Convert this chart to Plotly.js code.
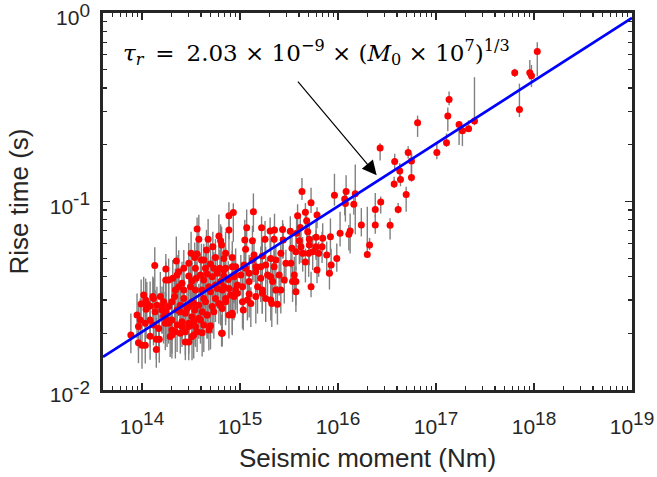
<!DOCTYPE html>
<html>
<head>
<meta charset="utf-8">
<script src="https://cdn.plot.ly/plotly-3.0.1.min.js"></script>
<style>html,body{margin:0;padding:0;background:#fff;}#chart{width:657px;height:477px;}</style>
</head>
<body>
<div id="chart"></div>
<script>
// Seismic moment M0 (N·m)
const moment = [
 1.08e18,6.36e17,9.06e17,9.42e17,7.10e17,1.36e17,1.32e17,6.49e16,1.28e17,1.02e17,
 1.72e17,1.86e17,2.15e17,2.47e17,2.69e16,5.20e16,5.62e16,3.79e16,4.27e16,4.34e16,
 3.74e16,5.62e16,4.96e16,4.11e16,2.73e16,2.40e16,2.40e16,3.40e16,1.73e16,2.10e16,
 1.99e16,1.45e16,1.50e16,1.33e16,
 4.29e15,9.20e15,1.21e16,1.17e16,1.19e16,5.31e15,3.87e15,4.65e15,6.11e15,4.79e15,
 1.37e15,8.55e14,7.71e14,
 3.65e14,7.71e14,1.17e15,1.66e15,2.03e15,2.25e15,2.72e15,3.26e15,4.12e15,3.78e15,
 4.91e15,5.97e15,5.10e15,8.37e15,1.05e16,6.09e14,6.34e14,1.12e15,1.34e15,1.80e15,
 2.23e15,2.76e15,4.03e15,6.98e15,1.29e16,3.80e14,4.73e14,
 1.35e14,2.24e14,1.75e14,3.17e14,3.65e14,4.04e14,4.55e14,5.28e14,6.49e14,7.13e14,
 6.85e14,5.62e14,5.00e14,4.44e14,3.45e14,3.00e14,2.67e14,2.37e14,8.34e14,1.14e15,
 1.39e15,1.34e15,1.69e15,2.06e15,2.32e15,1.83e15,2.23e15,2.94e15,3.31e15,2.61e15,
 3.39e15,4.19e15,5.10e15,5.52e15,6.35e15,6.88e15,7.67e15,4.36e15,5.02e15,3.72e15,
 4.65e15,5.97e15,9.03e14,1.10e15,1.63e15,1.45e15,1.14e15,8.34e14,7.13e14,6.24e14,
 5.41e14,
 1.87e14,2.06e14,2.28e14,2.37e14,2.56e14,3.00e14,3.24e14,3.57e14,3.95e14,4.27e14,
 4.62e14,5.20e14,5.86e14,6.34e14,6.85e14,7.59e14,8.68e14,1.02e15,1.24e15,1.45e15,
 1.63e15,1.91e15,2.06e15,2.51e15,2.83e15,3.58e15,3.72e15,6.11e15,8.51e15,8.18e15,
 9.72e15,1.75e14,2.19e14,2.67e14,3.12e14,3.51e14,4.11e14,4.81e14,5.62e14,6.59e14,
 7.71e14,9.03e14,1.06e15,1.24e15,1.51e15,1.69e15,2.15e15,2.32e15,3.72e15,5.31e15,
 8.9e13,9.8e13,1.04e14,1.09e14,1.10e14,1.21e14,1.29e14,1.36e14,1.42e14,1.54e14,
 1.60e14,1.66e14,1.75e14,1.87e14,2.02e14,2.15e14,2.28e14,2.46e14,2.67e14,2.77e14,
 3.00e14,3.24e14,3.45e14,3.80e14,4.11e14,4.44e14,4.62e14,5.20e14,5.62e14,6.09e14,
 6.59e14,7.13e14,7.71e14,8.34e14,8.68e14,9.39e14,1.06e15,1.19e15,1.29e15,1.08e15,
 1.24e15,1.45e15,1.69e15,1.83e15,2.06e15,2.11e15,2.41e15,2.61e15,3.44e15,
 7.7e13,9.2e13,9.6e13,1.08e14,1.21e14,1.31e14,1.48e14,1.66e14,1.87e14,2.02e14,
 2.28e14,2.56e14,3.00e14,3.24e14,3.51e14,3.95e14,4.27e14,4.81e14,2.02e14,2.19e14,
 2.46e14,2.77e14,3.00e14,3.37e14,3.65e14,4.11e14,9.2e13,1.0e14,1.08e14,1.21e14,
 1.40e14,1.50e14,1.40e14,1.73e14,1.94e14,6.49e14,5.00e14,
 3.51e14,4.27e14,6.85e14,8.68e14,9.39e14,8.02e14,7.13e14,6.34e14,5.41e14,4.62e14,
 3.80e14,3.37e14,3.00e14,2.56e14,3.24e14,2.77e14,1.73e14,1.60e14,1.31e14,1.12e14,
 1.80e14,2.02e14,2.46e14,2.88e14,3.37e14,4.27e14,5.00e14,5.86e14,6.85e14,8.34e14,
 6.59e14
];
// Rise time (s)
const riseTime = [
 0.624,0.482,0.482,0.465,0.308,0.348,0.284,0.262,0.205,0.182,
 0.256,0.237,0.243,0.267,0.192,0.182,0.164,0.163,0.145,0.131,
 0.124,0.134,0.109,0.0908,0.0994,0.0908,0.0750,0.0748,0.0750,0.0588,
 0.0524,0.0966,0.110,0.0697,
 0.113,0.108,0.113,0.103,0.0977,0.0986,0.0841,0.0876,0.0848,0.0791,
 0.0883,0.0873,0.0841,
 0.0715,0.0706,0.0726,0.0726,0.0697,0.0706,0.0711,0.0695,0.0729,0.0678,
 0.0692,0.0646,0.0630,0.0651,0.0678,0.0656,0.0620,0.0625,0.0620,0.0630,
 0.0630,0.0625,0.0620,0.0638,0.0670,0.0630,0.0630,
 0.0457,0.0483,0.0439,0.0531,0.0527,0.0489,0.0553,0.0576,0.0588,0.0531,
 0.0499,0.0505,0.0466,0.0442,0.0505,0.0470,0.0442,0.0424,0.0505,0.0558,
 0.0520,0.0489,0.0514,0.0499,0.0489,0.0460,0.0451,0.0470,0.0470,0.0531,
 0.0565,0.0576,0.0588,0.0542,0.0531,0.0576,0.0520,0.0531,0.0531,0.0542,
 0.0477,0.0576,0.0451,0.0460,0.0451,0.0451,0.0442,0.0451,0.0442,0.0442,
 0.0442,
 0.0383,0.0391,0.0407,0.0353,0.0368,0.0402,0.0380,0.0391,0.0407,0.0383,
 0.0412,0.0399,0.0416,0.0376,0.0402,0.0386,0.0399,0.0407,0.0416,0.0424,
 0.0391,0.0407,0.0399,0.0407,0.0383,0.0407,0.0376,0.0433,0.0460,0.0416,
 0.0499,0.0383,0.0339,0.0339,0.0353,0.0339,0.0339,0.0353,0.0361,0.0339,
 0.0346,0.0339,0.0353,0.0376,0.0353,0.0339,0.0376,0.0339,0.0332,0.0353,
 0.0250,0.0286,0.0319,0.0300,0.0268,0.0279,0.0313,0.0260,0.0282,0.0313,
 0.0277,0.0294,0.0260,0.0277,0.0294,0.0313,0.0266,0.0282,0.0306,0.0255,
 0.0277,0.0294,0.0266,0.0282,0.0260,0.0294,0.0250,0.0277,0.0306,0.0288,
 0.0271,0.0294,0.0250,0.0255,0.0313,0.0326,0.0294,0.0300,0.0288,0.0266,
 0.0323,0.0313,0.0326,0.0306,0.0300,0.0288,0.0285,0.0339,0.0376,
 0.0196,0.0217,0.0235,0.0226,0.0235,0.0221,0.0212,0.0245,0.0226,0.0208,
 0.0221,0.0230,0.0226,0.0245,0.0217,0.0235,0.0221,0.0208,0.0196,0.0204,
 0.0200,0.0204,0.0180,0.0196,0.0204,0.0201,0.0178,0.0173,0.0173,0.0193,
 0.0186,0.0186,0.0164,0.0226,0.0192,0.0200,0.0219,
 0.0442,0.0489,0.0433,0.0407,0.0361,0.0319,0.0306,0.0282,0.0260,0.0250,
 0.0240,0.0230,0.0217,0.0217,0.0192,0.0180,0.0255,0.0266,0.0306,0.0288,
 0.0235,0.0235,0.0260,0.0271,0.0288,0.0306,0.0332,0.0346,0.0353,0.0250,
 0.0200
];
// Relative upper / lower extent of each rise-time error bar
const errUp = [
 0.12,0.05,0.17,0.14,0.37,0.10,0.11,0.09,0.12,0.12,
 0.04,0.05,0.11,0.71,0.06,0.08,0.10,0.10,0.10,0.12,
 0.09,0.34,0.10,0.08,0.07,0.22,0.13,0.09,0.23,0.09,
 0.79,0.08,0.43,0.24,
 0.18,0.30,0.22,0.12,0.15,0.20,0.15,0.12,0.10,0.14,
 0.25,0.12,0.18,
 0.15,0.20,0.25,0.15,0.18,0.22,0.12,0.20,0.18,0.25,
 0.15,0.20,0.18,0.25,0.30,0.30,0.22,0.28,0.20,0.25,
 0.18,0.22,0.15,0.20,0.12,0.35,0.28,
 0.25,0.35,0.20,0.30,0.25,0.22,0.28,0.20,0.25,0.30,
 0.22,0.25,0.30,0.25,0.20,0.28,0.25,0.30,0.22,0.25,
 0.20,0.28,0.22,0.25,0.20,0.25,0.22,0.18,0.25,0.22,
 0.20,0.25,0.18,0.22,0.15,0.20,0.18,0.22,0.20,0.25,
 0.18,0.22,0.25,0.22,0.28,0.20,0.25,0.22,0.28,0.25,
 0.22,
 0.30,0.25,0.28,0.22,0.30,0.25,0.28,0.22,0.30,0.25,
 0.22,0.28,0.25,0.22,0.30,0.25,0.22,0.28,0.25,0.22,
 0.28,0.25,0.22,0.25,0.22,0.25,0.20,0.18,0.22,0.15,
 0.20,0.25,0.30,0.25,0.28,0.25,0.22,0.30,0.25,0.28,
 0.22,0.25,0.28,0.22,0.25,0.22,0.25,0.20,0.15,0.20,
 0.30,0.35,0.25,0.30,0.25,0.35,0.28,0.30,0.25,0.35,
 0.28,0.30,0.25,0.35,0.28,0.30,0.25,0.30,0.28,0.25,
 0.30,0.25,0.28,0.30,0.25,0.28,0.30,0.25,0.28,0.30,
 0.25,0.28,0.22,0.28,0.25,0.30,0.25,0.28,0.22,0.28,
 0.25,0.22,0.28,0.25,0.22,0.28,0.25,0.22,0.20,
 0.30,0.35,0.30,0.35,0.30,0.35,0.30,0.35,0.30,0.35,
 0.30,0.35,0.30,0.35,0.30,0.35,0.30,0.35,0.30,0.35,
 0.30,0.35,0.30,0.35,0.30,0.35,0.30,0.35,0.30,0.35,
 0.30,0.35,0.30,0.35,0.30,0.25,0.30,
 0.25,0.22,0.28,0.25,0.22,0.28,0.25,0.30,0.25,0.28,
 0.30,0.25,0.28,0.30,0.25,0.28,0.30,0.25,0.28,0.30,
 0.25,0.28,0.30,0.25,0.28,0.22,0.25,0.28,0.22,0.25,
 0.25
];
const errDown = [
 0.26,0.05,0.08,0.13,0.09,0.07,0.17,0.16,0.05,0.08,
 0.22,0.17,0.02,0.05,0.14,0.07,0.14,0.10,0.10,0.08,
 0.05,0.05,0.19,0.05,0.13,0.09,0.10,0.16,0.13,0.06,
 0.03,0.12,0.39,0.24,
 0.10,0.12,0.15,0.18,0.20,0.12,0.22,0.18,0.15,0.20,
 0.22,0.30,0.25,
 0.30,0.28,0.20,0.25,0.22,0.15,0.30,0.18,0.25,0.20,
 0.18,0.22,0.15,0.20,0.15,0.25,0.30,0.22,0.25,0.18,
 0.28,0.20,0.25,0.15,0.18,0.22,0.25,
 0.30,0.25,0.28,0.22,0.30,0.25,0.20,0.25,0.22,0.25,
 0.28,0.20,0.25,0.22,0.30,0.25,0.28,0.22,0.25,0.20,
 0.28,0.22,0.25,0.22,0.25,0.20,0.28,0.22,0.20,0.25,
 0.22,0.18,0.22,0.20,0.25,0.18,0.22,0.20,0.25,0.20,
 0.22,0.15,0.28,0.25,0.22,0.25,0.22,0.28,0.25,0.22,
 0.28,
 0.25,0.28,0.22,0.30,0.25,0.22,0.28,0.25,0.22,0.28,
 0.25,0.22,0.25,0.28,0.22,0.25,0.28,0.22,0.25,0.22,
 0.25,0.22,0.28,0.22,0.25,0.20,0.25,0.15,0.12,0.18,
 0.15,0.28,0.25,0.28,0.22,0.25,0.28,0.22,0.25,0.22,
 0.28,0.22,0.25,0.22,0.28,0.25,0.22,0.25,0.22,0.12,
 0.25,0.22,0.28,0.25,0.30,0.25,0.22,0.28,0.25,0.22,
 0.28,0.25,0.30,0.22,0.25,0.28,0.25,0.22,0.28,0.25,
 0.28,0.22,0.25,0.28,0.25,0.22,0.25,0.28,0.25,0.22,
 0.28,0.25,0.25,0.22,0.25,0.22,0.28,0.22,0.25,0.22,
 0.25,0.28,0.22,0.25,0.22,0.25,0.22,0.25,0.22,
 0.20,0.25,0.22,0.25,0.28,0.22,0.25,0.28,0.22,0.25,
 0.28,0.22,0.25,0.28,0.22,0.25,0.28,0.22,0.25,0.28,
 0.22,0.25,0.20,0.25,0.22,0.25,0.22,0.25,0.20,0.25,
 0.22,0.25,0.20,0.28,0.22,0.15,0.25,
 0.22,0.25,0.22,0.28,0.25,0.22,0.25,0.22,0.28,0.25,
 0.22,0.25,0.28,0.22,0.25,0.20,0.28,0.25,0.22,0.25,
 0.28,0.22,0.25,0.28,0.22,0.25,0.28,0.22,0.25,0.22,
 0.15
];
// Fitted scaling law  tau_r = 2.03e-9 * (M0 * 1e7)^(1/3), end points
const fitMoment = [4e13, 1e19];
const fitRiseTime = [0.0150, 0.942];
// Axis limits and tick labels
const xLimits = [4e13, 1e19];
const yLimits = [0.01, 1];
const xTickVals = [1e14, 1e15, 1e16, 1e17, 1e18, 1e19];
const xTickExp = ['14', '15', '16', '17', '18', '19'];
const yTickVals = [0.01, 0.1, 1];
const yTickExp = ['-2', '-1', '0'];
// Annotation: arrow tip position (data values)
const arrowTip = {moment: 2.48e16, riseTime: 0.138};
const formulaText = '<i>τ</i><sub><i>r</i></sub> \u2009=\u2009 2.03 × 10<sup>−9</sup> × (<i>M</i><sub>0</sub> × 10<sup>7</sup>)<sup>1/3</sup>';

const axisColor = '#262626';
const sans = 'Liberation Sans, Arial, Helvetica, sans-serif';
const powerLabel = e => '10<sup><span style="font-size:19px">' + e + '</span></sup>';

const points = {
  type: 'scatter', mode: 'markers',
  x: moment, y: riseTime,
  marker: {color: '#ff0000', size: 7, line: {width: 0}},
  error_y: {
    type: 'data', symmetric: false,
    array: riseTime.map((t, i) => t * errUp[i]),
    arrayminus: riseTime.map((t, i) => t * errDown[i]),
    color: '#808080', thickness: 1.4, width: 0
  },
  hoverinfo: 'x+y', showlegend: false
};
const fit = {
  type: 'scatter', mode: 'lines',
  x: fitMoment, y: fitRiseTime,
  line: {color: '#0000ff', width: 2.7},
  showlegend: false
};

const commonAxis = {
  type: 'log', showgrid: false, zeroline: false,
  showline: true, linecolor: axisColor, linewidth: 2.8, mirror: 'allticks',
  ticks: 'inside', ticklen: 7, tickwidth: 1.6, tickcolor: axisColor,
  tickmode: 'array', ticklabeloverflow: 'allow',
  tickfont: {family: sans, size: 21, color: axisColor},
  minor: {tickmode: 'linear', dtick: 'D1', ticks: 'inside', ticklen: 4, tickwidth: 1.3, tickcolor: axisColor, showgrid: false}
};

const layout = {
  width: 657, height: 477,
  margin: {l: 103, r: 25, t: 13, b: 87},
  paper_bgcolor: '#ffffff', plot_bgcolor: '#ffffff',
  font: {family: sans, color: axisColor},
  showlegend: false,
  xaxis: Object.assign({}, commonAxis, {
    range: xLimits.map(Math.log10),
    tickvals: xTickVals, ticktext: xTickExp.map(powerLabel),
    ticklabelstandoff: 16,
    title: {text: 'Seismic moment (Nm)', font: {family: sans, size: 26, color: axisColor}, standoff: 12}
  }),
  yaxis: Object.assign({}, commonAxis, {
    range: yLimits.map(Math.log10),
    tickvals: yTickVals, ticktext: yTickExp.map(powerLabel),
    ticklabelstandoff: 6, ticklabelshift: 5,
    title: {text: 'Rise time (s)', font: {family: sans, size: 26, color: axisColor}, standoff: 14}
  }),
  annotations: [
    {
      xref: 'x', yref: 'y',
      x: Math.log10(arrowTip.moment), y: Math.log10(arrowTip.riseTime),
      axref: 'pixel', ayref: 'pixel', ax: -80, ay: -95,
      text: '', showarrow: true,
      arrowhead: 2, arrowsize: 2.4, arrowwidth: 1.2, arrowcolor: '#000000'
    },
    {
      xref: 'paper', yref: 'paper', x: 0.034, y: 0.895,
      xanchor: 'left', yanchor: 'middle',
      text: formulaText, showarrow: false,
      font: {family: 'DejaVu Serif, Liberation Serif, serif', size: 23, color: '#000000'}
    }
  ]
};

Plotly.newPlot('chart', [points, fit], layout, {displayModeBar: false, staticPlot: true});
</script>
</body>
</html>
